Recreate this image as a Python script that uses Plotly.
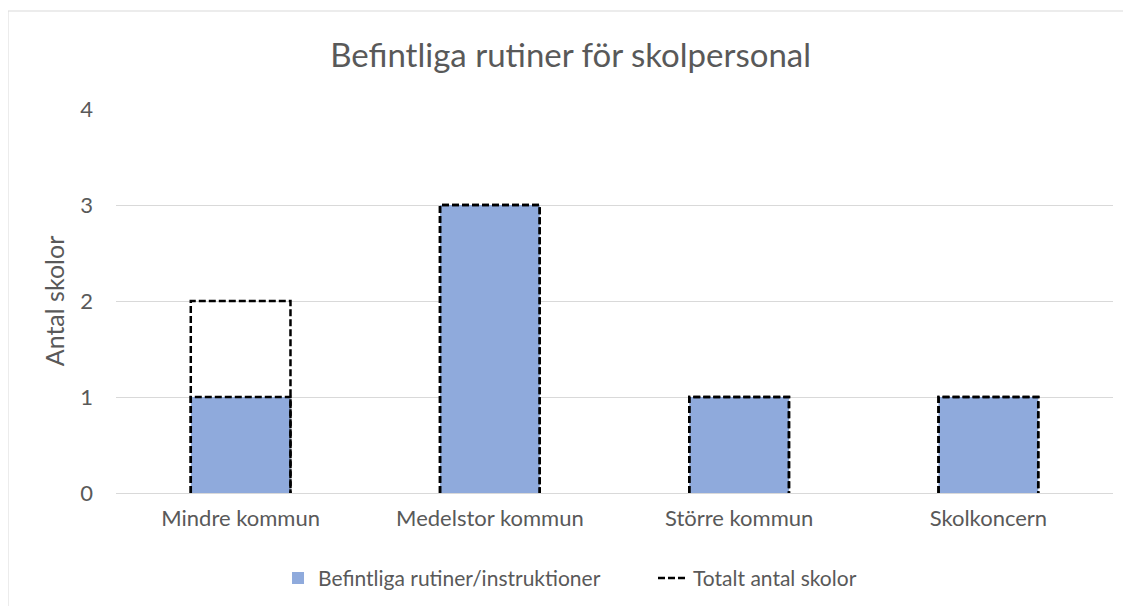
import plotly.graph_objects as go

categories = ["Mindre kommun", "Medelstor kommun", "Större kommun", "Skolkoncern"]
befintliga = [1, 3, 1, 1]
totalt = [2, 3, 1, 1]
series_names = ["Befintliga rutiner/instruktioner", "Totalt antal skolor"]
y_ticks = [0, 1, 2, 3, 4]

BAR_W = 0.4
FONT = "Lato, Carlito, Calibri, sans-serif"
GREY_TXT = "#595959"
GRID = "#d9d9d9"

W, H = 1123, 598
L, R, T, B = 108, 18, 101, 113
PW, PH = W - L - R, H - T - B

xpos = list(range(len(categories)))

fig = go.Figure()

fig.add_trace(go.Bar(
    x=xpos, y=befintliga, width=BAR_W, name=series_names[0],
    marker=dict(color="#8faadc", line=dict(width=0)),
    showlegend=True,
))


def outline(values):
    xs, ys = [], []
    for i, v in zip(xpos, values):
        xs += [i - BAR_W / 2, i - BAR_W / 2, i + BAR_W / 2, i + BAR_W / 2, None]
        ys += [0, v, v, 0, None]
    return xs, ys


DASH = dict(color="black", width=2.5, dash="7px,3px")
xs, ys = outline(befintliga)
fig.add_trace(go.Scatter(x=xs, y=ys, mode="lines", showlegend=False,
                         hoverinfo="skip", line=DASH))
xs, ys = outline(totalt)
fig.add_trace(go.Scatter(x=xs, y=ys, mode="lines", name=series_names[1],
                         hoverinfo="skip", line=DASH))

fig.update_layout(
    width=W, height=H,
    margin=dict(l=L, r=R, t=T, b=B, autoexpand=False),
    paper_bgcolor="white", plot_bgcolor="white",
    font=dict(family=FONT, color=GREY_TXT, size=21),
    title=dict(text="Befintliga rutiner för skolpersonal", xref="container", x=0.501,
               xanchor="center", yref="container", y=0.921, yanchor="middle",
               font=dict(size=33, color=GREY_TXT, family=FONT)),
    showlegend=True,
    legend=dict(orientation="h", x=0.1625, xanchor="left", y=-0.222, yanchor="middle",
                font=dict(size=21, color=GREY_TXT), traceorder="normal",
                itemwidth=30, entrywidth=330, entrywidthmode="pixels"),
    bargap=0.6,
    shapes=[dict(type="rect", xref="paper", yref="paper",
                 x0=(0 - L) / PW, x1=1.2, y0=-0.5, y1=(PH + T - 3) / PH,
                 line=dict(color=GRID, width=1), fillcolor="rgba(0,0,0,0)", layer="below")],
)

fig.update_xaxes(
    tickvals=xpos, ticktext=categories, range=[-0.5, len(categories) - 0.5],
    showgrid=False, zeroline=False, showline=True, linecolor=GRID, linewidth=1,
    ticks="", ticklabelstandoff=6, automargin=False,
    tickfont=dict(size=22, color=GREY_TXT),
)
fig.update_yaxes(
    range=[0, 4], tickvals=y_ticks, showgrid=True, gridcolor=GRID, gridwidth=1,
    zeroline=False, showline=False, ticks="", ticklabelstandoff=22, automargin=False,
    title=dict(text="Antal skolor", font=dict(size=25, color=GREY_TXT), standoff=8),
    tickfont=dict(size=22, color=GREY_TXT),
)

fig.write_html("out.html")
